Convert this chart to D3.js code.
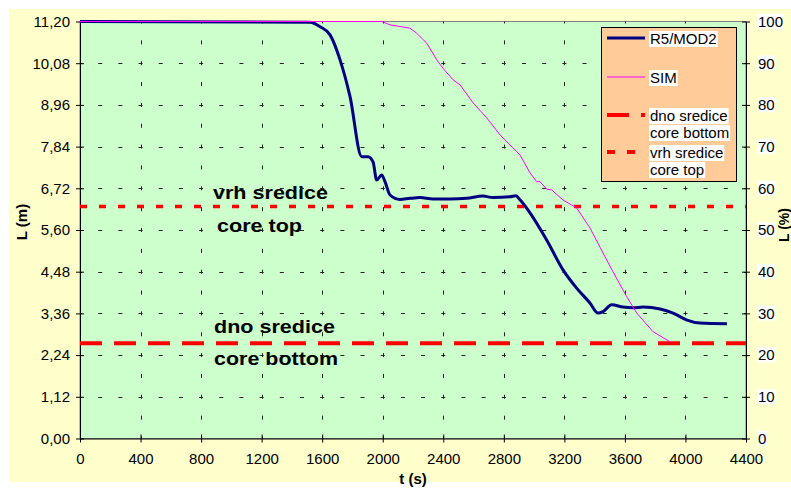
<!DOCTYPE html>
<html>
<head>
  <meta charset="utf-8">
  <script src="https://d3js.org/d3.v7.min.js"></script>
  <style>
    body { margin: 0; background: #fff; }
    text { font-family: "Liberation Sans", Arial, sans-serif; }
  </style>
</head>
<body>
<script>
  // data
  var tTicks = [0, 400, 800, 1200, 1600, 2000, 2400, 2800, 3200, 3600, 4000, 4400];
  var lTicks = [0, 1.12, 2.24, 3.36, 4.48, 5.60, 6.72, 7.84, 8.96, 10.08, 11.20];
  var pTicks = [0, 10, 20, 30, 40, 50, 60, 70, 80, 90, 100];

  // R5/MOD2 level, metres
  var r5T = [0, 1520, 1586, 1652, 1718, 1784, 1861, 1903, 1936, 1960, 1993, 2015, 2048, 2114, 2180,
             2246, 2332, 2444, 2555, 2662, 2729, 2841, 2880, 2907, 2973, 3083, 3191, 3281, 3369,
             3422, 3455, 3513, 3587, 3653, 3720, 3832, 3918, 4010, 4096, 4274];
  var r5L = [11.2, 11.18, 11.06, 10.84, 10.17, 9.18, 7.57, 7.57, 7.43, 6.94, 7.08, 6.90, 6.54, 6.42, 6.45,
             6.47, 6.43, 6.43, 6.45, 6.51, 6.47, 6.49, 6.52, 6.41, 6.06, 5.33, 4.53, 4.04, 3.64,
             3.37, 3.41, 3.59, 3.53, 3.51, 3.53, 3.48, 3.37, 3.18, 3.10, 3.08];

  // SIM level, percent
  var simT = [0, 1993, 2048, 2114, 2180, 2224, 2291, 2357, 2398, 2465, 2511, 2597, 2687, 2775, 2841,
              2907, 2973, 3017, 3039, 3083, 3116, 3191, 3281, 3369, 3455, 3521, 3612, 3678, 3786, 3898];
  var simP = [100, 100, 99.2, 98.8, 98.4, 97.2, 94.8, 90.8, 88.8, 86.0, 84.8, 80.5, 76.9, 72.8, 70.4,
              68.0, 63.7, 61.6, 61.6, 59.8, 59.6, 57.2, 55.3, 50.5, 44.5, 40.0, 34.0, 30.1, 25.6, 23.2];

  var coreTop = 6.23, coreBottom = 2.56;

  var W = 791, H = 488;
  var svg = d3.select("body").append("svg").attr("width", W).attr("height", H);

  var x = d3.scaleLinear().domain([0, 4400]).range([80, 746]);
  var y = d3.scaleLinear().domain([0, 11.2]).range([438.5, 21.5]);
  var yp = d3.scaleLinear().domain([0, 100]).range([438.5, 21.5]);

  // chart area + plot area
  svg.append("rect").attr("x", 9).attr("y", 9).attr("width", W - 9).attr("height", 473).attr("fill", "#ffffcc");
  svg.append("rect").attr("x", 80).attr("y", 21.5).attr("width", 666).attr("height", 417)
    .attr("fill", "#ccffcc").attr("stroke", "#808080").attr("stroke-width", 1);

  // grid: short dashes centred on the crossings
  var px = (x(400) - x(0)) / 3, py = (y(0) - y(1.12)) / 2;
  var grid = svg.append("g").attr("stroke", "#222").attr("stroke-width", 1);
  grid.selectAll(".hg").data(lTicks.slice(1, -1)).enter().append("line")
    .attr("x1", 80).attr("x2", 746)
    .attr("y1", function(d) { return Math.round(y(d)) + 0.5; })
    .attr("y2", function(d) { return Math.round(y(d)) + 0.5; })
    .attr("stroke-dasharray", "4," + (px - 4)).attr("stroke-dashoffset", 2);
  grid.selectAll(".vg").data(tTicks.slice(1, -1)).enter().append("line")
    .attr("y1", 21.5).attr("y2", 438.5)
    .attr("x1", function(d) { return Math.round(x(d)) + 0.5; })
    .attr("x2", function(d) { return Math.round(x(d)) + 0.5; })
    .attr("stroke-dasharray", "4," + (py - 4)).attr("stroke-dashoffset", 2);

  // axes
  function crossTicks(g, dir) {
    g.select(".domain").attr("stroke", "#000");
    g.selectAll(".tick line").attr(dir, function() { return -(+d3.select(this).attr(dir === "x1" ? "x2" : "y2")); });
    g.selectAll(".tick text").attr("fill", "#000");
  }
  var fmt = function(d) { return d3.format(".2f")(d).replace(".", ","); };

  var gl = svg.append("g").attr("transform", "translate(80,0)")
    .call(d3.axisLeft(y).tickValues(lTicks).tickFormat(fmt).tickSizeInner(4).tickSizeOuter(0).tickPadding(6));
  crossTicks(gl, "x1");
  var gr = svg.append("g").attr("transform", "translate(746,0)")
    .call(d3.axisRight(yp).tickValues(pTicks).tickSizeInner(4).tickSizeOuter(0).tickPadding(8));
  crossTicks(gr, "x1");
  var gb = svg.append("g").attr("transform", "translate(0,438.5)")
    .call(d3.axisBottom(x).tickValues(tTicks).tickFormat(d3.format("d")).tickSizeInner(4).tickSizeOuter(0).tickPadding(11));
  crossTicks(gb, "y1");
  svg.selectAll(".tick text").style("font-size", "15px").style("font-family", "'Liberation Sans', Arial, sans-serif");

  // white boxes behind right labels
  gr.selectAll(".tick").each(function() {
    var t = d3.select(this).select("text"), b = t.node().getBBox();
    d3.select(this).insert("rect", "text").attr("x", b.x - 1).attr("y", b.y + 1)
      .attr("width", b.width + 2).attr("height", b.height - 2).attr("fill", "#fff");
  });

  // axis titles
  svg.append("text").attr("x", 413).attr("y", 484).attr("text-anchor", "middle")
    .style("font-size", "15px").style("font-weight", "bold").text("t (s)");
  svg.append("text").attr("transform", "translate(27,222) rotate(-90)").attr("text-anchor", "middle")
    .style("font-size", "15px").style("font-weight", "bold").text("L (m)");
  svg.append("text").attr("transform", "translate(789,225) rotate(-90)").attr("text-anchor", "middle")
    .style("font-size", "14px").style("font-weight", "bold").text("L (%)");

  // core lines
  svg.append("line").attr("x1", 80).attr("x2", 746).attr("y1", y(coreTop)).attr("y2", y(coreTop))
    .attr("stroke", "#ff0000").attr("stroke-width", 3.5).attr("stroke-dasharray", "7,12");
  svg.append("line").attr("x1", 80).attr("x2", 746).attr("y1", y(coreBottom)).attr("y2", y(coreBottom))
    .attr("stroke", "#ff0000").attr("stroke-width", 4).attr("stroke-dasharray", "22,12");

  // series
  var simData = simT.map(function(t, i) { return [t, simP[i]]; });
  var r5Data = r5T.map(function(t, i) { return [t, r5L[i]]; });
  svg.append("path").datum(r5Data)
    .attr("d", d3.line().curve(d3.curveMonotoneX).x(function(d) { return x(d[0]); }).y(function(d) { return y(d[1]); }))
    .attr("fill", "none").attr("stroke", "#000080").attr("stroke-width", 3).attr("stroke-linejoin", "round");
  svg.append("path").datum(simData)
    .attr("d", d3.line().x(function(d) { return x(d[0]); }).y(function(d) { return yp(d[1]); }))
    .attr("fill", "none").attr("stroke", "#ff00ff").attr("stroke-width", 1);

  // annotations (text, x, baseline, width)
  var notes = [["vrh sredice", 213, 199, 115], ["core top", 217, 232, 85],
               ["dno sredice", 214, 333, 121], ["core bottom", 214, 365, 124]];
  svg.selectAll(".note").data(notes).enter().append("text")
    .attr("x", function(d) { return d[1]; }).attr("y", function(d) { return d[2]; })
    .attr("textLength", function(d) { return d[3]; }).attr("lengthAdjust", "spacingAndGlyphs")
    .style("font-size", "18px").style("font-weight", "bold").text(function(d) { return d[0]; });

  // legend
  var lg = svg.append("g");
  lg.append("rect").attr("x", 601.5).attr("y", 27.5).attr("width", 135).attr("height", 154)
    .attr("fill", "#ffcc99").attr("stroke", "#000").attr("stroke-width", 1);
  var legItems = [
    { y: 38, lines: ["R5/MOD2"], color: "#000080", w: 3, dash: null },
    { y: 77, lines: ["SIM"], color: "#ff00ff", w: 1, dash: null },
    { y: 115, lines: ["dno sredice", "core bottom"], color: "#ff0000", w: 4, dash: "22,12" },
    { y: 152, lines: ["vrh sredice", "core top"], color: "#ff0000", w: 4, dash: "8,12" }
  ];
  legItems.forEach(function(it) {
    lg.append("line").attr("x1", 607).attr("x2", 645).attr("y1", it.y).attr("y2", it.y)
      .attr("stroke", it.color).attr("stroke-width", it.w).attr("stroke-dasharray", it.dash);
    it.lines.forEach(function(s, k) {
      var t = lg.append("text").attr("x", 650).attr("y", it.y + 6 + k * 17)
        .style("font-size", "15px").text(s);
      var b = t.node().getBBox();
      lg.insert("rect", function() { return t.node(); }).attr("x", b.x - 1).attr("y", b.y + 1)
        .attr("width", b.width + 2).attr("height", b.height - 1).attr("fill", "#fff");
    });
  });
</script>
</body>
</html>
